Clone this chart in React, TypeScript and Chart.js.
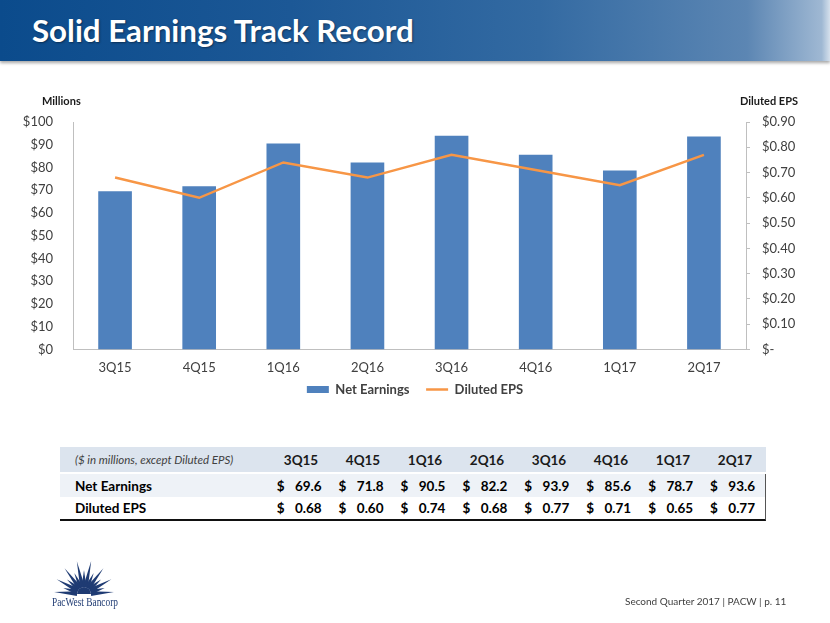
import React, { useEffect, useRef } from "react";
import { Chart, registerables } from "chart.js";

Chart.register(...registerables);

const quarters = ["3Q15", "4Q15", "1Q16", "2Q16", "3Q16", "4Q16", "1Q17", "2Q17"];
const netEarnings = [69.6, 71.8, 90.5, 82.2, 93.9, 85.6, 78.7, 93.6];
const dilutedEps = [0.68, 0.6, 0.74, 0.68, 0.77, 0.71, 0.65, 0.77];
const leftTicks = [0, 10, 20, 30, 40, 50, 60, 70, 80, 90, 100];
const rightTicks = [0, 0.1, 0.2, 0.3, 0.4, 0.5, 0.6, 0.7, 0.8, 0.9];

const FONT = "Lato, 'Open Sans', sans-serif";
const TEXT = "#404040";

function EarningsChart() {
  const ref = useRef<HTMLCanvasElement | null>(null);
  useEffect(() => {
    if (!ref.current) return;
    const chart = new Chart(ref.current, {
      type: "bar",
      data: {
        labels: quarters,
        datasets: [
          {
            type: "bar",
            label: "Net Earnings",
            data: netEarnings,
            backgroundColor: "#4f81bd",
            borderWidth: 0,
            yAxisID: "y",
            order: 1,
            categoryPercentage: 0.8,
            barPercentage: 0.5,
            pointStyle: "rect",
          } as any,
          {
            type: "line",
            label: "Diluted EPS",
            data: dilutedEps,
            borderColor: "#f79646",
            backgroundColor: "#f79646",
            borderWidth: 2.5,
            pointRadius: 0,
            tension: 0,
            yAxisID: "y1",
            order: 0,
            pointStyle: "line",
          } as any,
        ],
      },
      options: {
        animation: false,
        responsive: false,
        maintainAspectRatio: false,
        layout: { padding: { top: 32, left: 0, right: 0, bottom: 0 } },
        plugins: {
          tooltip: { enabled: false },
          legend: {
            position: "bottom",
            labels: {
              usePointStyle: true,
              pointStyleWidth: 22,
              boxHeight: 7,
              color: TEXT,
              font: { family: FONT, size: 13, weight: "bold" },
              padding: 4,
              sort: (a: any, b: any) => a.datasetIndex - b.datasetIndex,
              generateLabels: (c: any) => {
                const items = Chart.defaults.plugins.legend.labels.generateLabels(c);
                return items.map((it: any) => (it.datasetIndex === 0 ? { ...it, text: it.text + "    " } : it));
              },
            },
          },
        },
        scales: {
          x: {
            grid: { display: false },
            border: { display: true, color: "#bfbfbf", width: 1 },
            ticks: { color: TEXT, font: { family: FONT, size: 13 }, padding: 3 },
          },
          y: {
            position: "left",
            min: 0,
            max: 100,
            afterBuildTicks: (s: any) => {
              s.ticks = leftTicks.map((v) => ({ value: v }));
            },
            grid: { display: false },
            border: { display: true, color: "#bfbfbf", width: 1 },
            ticks: {
              color: TEXT,
              font: { family: FONT, size: 13 },
              padding: 12,
              callback: (v: any) => "$" + v,
            },
            afterFit: (s: any) => {
              s.width = 73;
            },
          },
          y1: {
            position: "right",
            min: 0,
            max: 0.9,
            afterBuildTicks: (s: any) => {
              s.ticks = rightTicks.map((v) => ({ value: v }));
            },
            grid: { display: true, drawOnChartArea: false, drawTicks: true, tickLength: 4, color: "#bfbfbf" },
            border: { display: true, color: "#bfbfbf", width: 1 },
            ticks: {
              color: TEXT,
              font: { family: FONT, size: 13 },
              padding: 12,
              callback: (v: any) => (Number(v) === 0 ? "$-" : "$" + Number(v).toFixed(2)),
            },
            afterFit: (s: any) => {
              s.width = 84;
            },
          },
        },
      } as any,
    });
    return () => chart.destroy();
  }, []);
  return <canvas ref={ref} width={830} height={316} style={{ position: "absolute", left: 0, top: 90, width: 830, height: 316 }} />;
}

const tableCell: React.CSSProperties = { position: "relative", width: 62, boxSizing: "border-box" };

function ValueCell({ v }: { v: string }) {
  return (
    <div style={{ ...tableCell, display: "flex", justifyContent: "space-between", paddingLeft: 7, paddingRight: 10 }}>
      <span>$</span>
      <span>{v}</span>
    </div>
  );
}

function DataTable() {
  const row = (bg: string, h: number, extra: React.CSSProperties = {}): React.CSSProperties => ({
    display: "flex",
    alignItems: "center",
    height: h,
    background: bg,
    ...extra,
  });
  return (
    <div style={{ position: "absolute", left: 60, top: 447, width: 706, fontFamily: FONT, color: "#000", fontSize: 13.5 }}>
      <div style={row("#dce4ee", 25)}>
        <div style={{ width: 210, paddingLeft: 15, fontStyle: "italic", fontSize: 11.5, color: TEXT, boxSizing: "border-box" }}>
          ($ in millions, except Diluted EPS)
        </div>
        {quarters.map((q) => (
          <div key={q} style={{ ...tableCell, textAlign: "center", fontWeight: "bold", color: "#1a1a1a" }}>
            {q}
          </div>
        ))}
      </div>
      <div style={{ height: 2 }} />
      <div style={row("#eef2f7", 23, { fontWeight: "bold", borderRight: "1px solid #555" })}>
        <div style={{ width: 210, paddingLeft: 15, boxSizing: "border-box" }}>Net Earnings</div>
        {netEarnings.map((v, i) => (
          <ValueCell key={i} v={v.toFixed(1)} />
        ))}
      </div>
      <div style={row("#ffffff", 22, { fontWeight: "bold", borderRight: "1px solid #555", borderBottom: "2px solid #111" })}>
        <div style={{ width: 210, paddingLeft: 15, boxSizing: "border-box" }}>Diluted EPS</div>
        {dilutedEps.map((v, i) => (
          <ValueCell key={i} v={v.toFixed(2)} />
        ))}
      </div>
    </div>
  );
}

function Logo() {
  const rays = [];
  const cx = 84;
  const cy = 594;
  const n = 15;
  for (let i = 0; i < n; i++) {
    const a = Math.PI * (0.02 + (0.96 * i) / (n - 1));
    const mid = Math.abs(i - (n - 1) / 2) / ((n - 1) / 2);
    const len = (i % 2 === 0 ? 34 : 24) * (1 - 0.12 * mid);
    const x2 = cx - Math.cos(a) * len;
    const y2 = cy - Math.sin(a) * len;
    const wx = Math.sin(a) * 2.4;
    const wy = -Math.cos(a) * 2.4;
    const bx = cx - Math.cos(a) * 7;
    const by = cy - Math.sin(a) * 7;
    rays.push(
      <polygon key={i} points={`${bx + wx},${by + wy} ${bx - wx},${by - wy} ${x2},${y2}`} fill="#1f3b73" />
    );
  }
  return (
    <svg style={{ position: "absolute", left: 0, top: 0 }} width={830} height={623}>
      {rays}
      <path d={`M ${cx - 7} ${cy} A 7 7 0 0 1 ${cx + 7} ${cy} Z`} fill="#1f3b73" />
      <text
        x={52}
        y={606}
        fontFamily="'Liberation Serif', 'DejaVu Serif', serif"
        fontSize={12}
        textLength={66}
        lengthAdjust="spacingAndGlyphs"
        fill="#1f3b73"
      >
        PacWest Bancorp
      </text>
    </svg>
  );
}

export default function App() {
  return (
    <div style={{ position: "absolute", left: 0, top: 0, width: 830, height: 623, background: "#fff", overflow: "hidden", fontFamily: FONT }}>
      <div
        style={{
          position: "absolute",
          left: 0,
          top: 0,
          width: 830,
          height: 61,
          background: "linear-gradient(to right, #0b4b8c 0%, #1c5896 35%, #336aa2 65%, #5c86b3 90%, #9fb8d3 99%, #d5e0ec 100%)",
          boxShadow: "0 2px 3px rgba(0,0,0,0.35)",
        }}
      />
      <div
        style={{
          position: "absolute",
          left: 32,
          top: 11,
          color: "#fff",
          fontWeight: "bold",
          fontSize: 31.3,
          lineHeight: "38px",
          fontFamily: FONT,
          textShadow: "1px 1px 2px rgba(0,0,0,0.4)",
        }}
      >
        Solid Earnings Track Record
      </div>
      <EarningsChart />
      <div style={{ position: "absolute", left: 42, top: 94, fontSize: 11, fontWeight: "bold", color: "#1a1a1a" }}>Millions</div>
      <div style={{ position: "absolute", left: 740, top: 94, fontSize: 11, fontWeight: "bold", color: "#1a1a1a" }}>Diluted EPS</div>
      <DataTable />
      <Logo />
      <div style={{ position: "absolute", left: 625, top: 595, fontSize: 10, color: TEXT }}>Second Quarter 2017 | PACW | p. 11</div>
    </div>
  );
}
